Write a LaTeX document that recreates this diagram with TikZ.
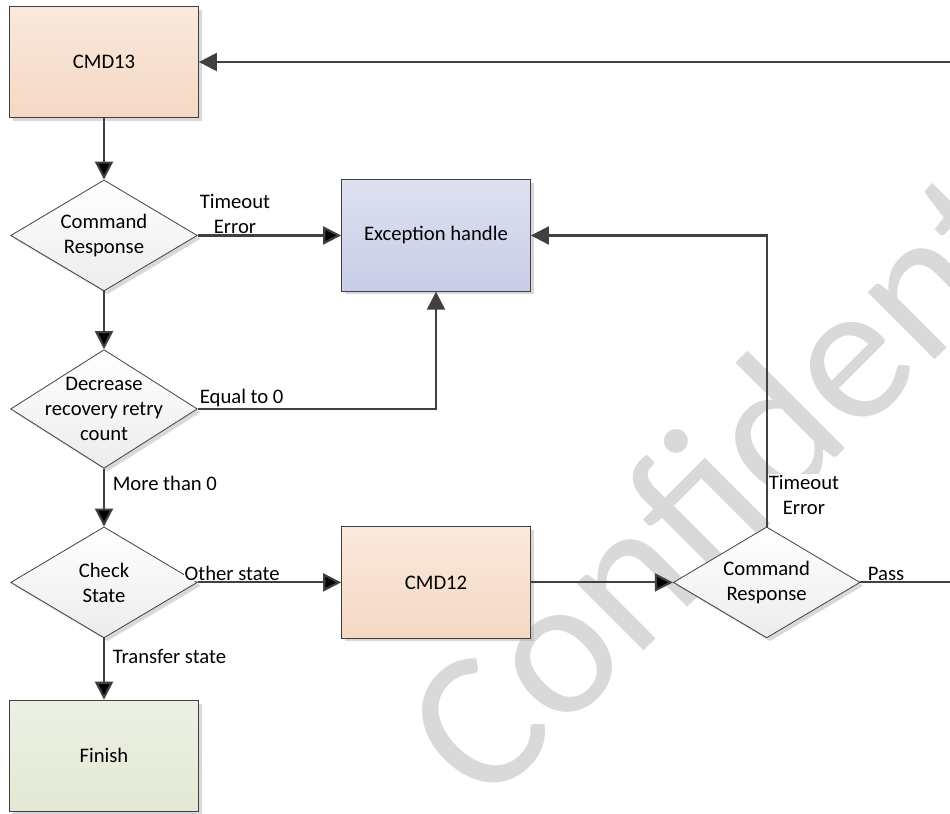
\documentclass[tikz,border=0pt]{standalone}
\usepackage{fontspec}
\setmainfont{Carlito}
\usetikzlibrary{shapes.geometric, arrows.meta, positioning, shadows}

\definecolor{linegray}{RGB}{64,64,64}
\definecolor{cmdtop}{RGB}{250,233,221}
\definecolor{cmdbot}{RGB}{245,216,195}
\definecolor{exctop}{RGB}{221,225,241}
\definecolor{excbot}{RGB}{199,205,230}
\definecolor{fintop}{RGB}{236,240,227}
\definecolor{finbot}{RGB}{228,233,213}
\definecolor{dectop}{RGB}{255,255,255}
\definecolor{decbot}{RGB}{236,236,236}

\begin{document}
\begin{tikzpicture}[>={Triangle[length=13.5pt,width=13.5pt]},node distance=130.1pt,
		font=\fontsize{15.5}{18.75}\selectfont]
			\tikzstyle{shade box}=[drop shadow={shadow xshift=2.5pt,shadow yshift=-2.5pt,shade=false,fill=black!30}]
			\tikzstyle{block}=[shade box,draw=linegray,line width=0.8pt,rectangle,minimum width=141.5pt,minimum height=83.5pt]
			\tikzstyle{decision}=[shade box,draw=linegray,line width=0.6pt,diamond,inner sep=0pt,minimum width=140pt,minimum height=83.25pt,top color=dectop,bottom color=decbot]
			\tikzstyle{flow}=[->,draw=linegray,line width=1.6pt]
			\tikzstyle{lbl}=[fill=white,inner sep=0.8pt,align=center]
			\useasboundingbox (0,0) rectangle (712.5pt,-610.5pt);
			\coordinate (rim) at (730pt,0pt);
			% watermark
			\node[text=black!15,font=\fontsize{149}{149}\selectfont,rotate=45,anchor=base west,inner sep=0pt] (wm) at (364pt,-607pt) {Confidential};
			% left column
			\node[block,top color=cmdtop,bottom color=cmdbot]    (cmd13) at (78pt,-46.5pt) {CMD13};
			\node[decision,label={[align=center]center:Command\\Response}]    (resp1)[below of=cmd13] {};
			\node[decision,minimum height=89pt,label={[align=center]center:Decrease\\recovery retry\\count}]    (retry)[below of=resp1] {};
			\node[decision,label={[align=center]center:Check\\State}]    (check)[below of=retry] {};
			\node[block,top color=fintop,bottom color=finbot]    (finish)[below of=check] {Finish};
			% right part
			\node[block,top color=exctop,bottom color=excbot]    (except)[right of=resp1,node distance=249pt] {Exception handle};
			\node[block,top color=cmdtop,bottom color=cmdbot]    (cmd12)[right of=check,node distance=249pt] {CMD12};
			\node[decision,label={[align=center]center:Command\\Response}]    (resp2)[right of=cmd12,node distance=248pt] {};
			\path[flow]
			(cmd13) edge (resp1)
			(resp1) edge node[lbl,pos=0,anchor=south west] {Timeout\\Error} (except)
			(resp1) edge (retry)
			(retry) edge node[lbl,pos=0.25,anchor=west,xshift=5pt] {More than 0} (check)
			(check) edge node[lbl,pos=0.24,anchor=south] {Other state} (cmd12)
			(check) edge node[lbl,pos=0.3,anchor=west,xshift=5pt] {Transfer state} (finish)
			(cmd12) edge (resp2);
			\draw[flow] (retry) -| node[lbl,pos=0,anchor=south west] {Equal to 0} (except);
			\draw[flow] (resp2) |- node[lbl,pos=0.055,anchor=west] {Timeout\\Error} (except);
			\draw[flow] (resp2.east) -- node[lbl,pos=0,anchor=south west,xshift=4pt] {Pass} (resp2.east -| rim) |- (cmd13);
		\end{tikzpicture}
\end{document}
